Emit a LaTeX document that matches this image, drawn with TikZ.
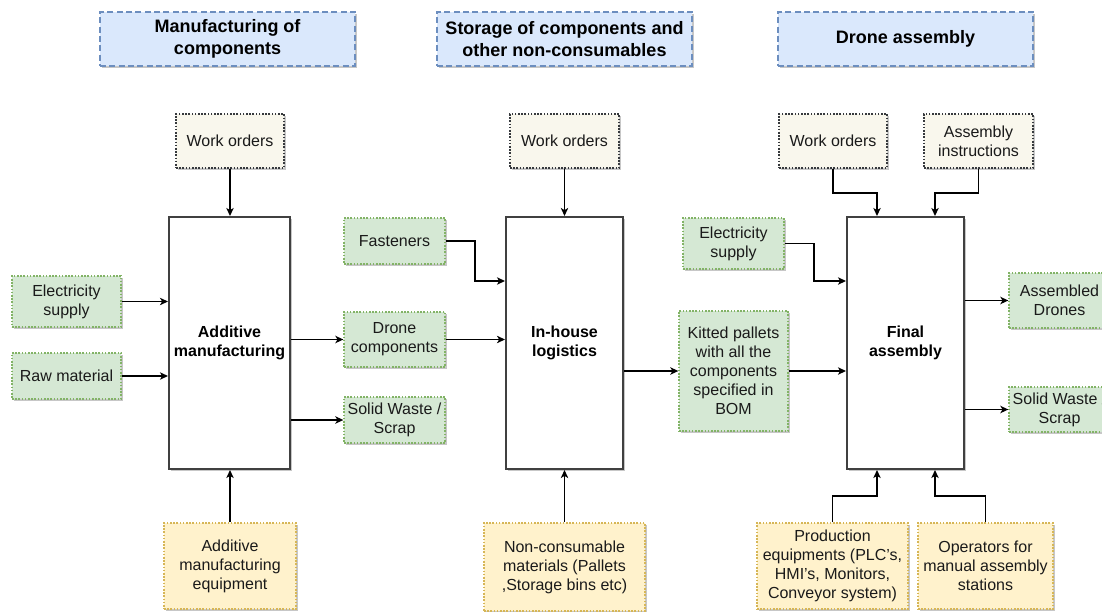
\documentclass[tikz,border=0pt]{standalone}
\usepackage{fontspec}
\setmainfont{Liberation Sans}
\usetikzlibrary{arrows.meta,shadows}

\definecolor{hdrfill}{HTML}{DAE8FC}
\definecolor{hdrline}{HTML}{6C8EBF}
\definecolor{grnfill}{HTML}{D5E8D4}
\definecolor{grnline}{HTML}{82B366}
\definecolor{ylwfill}{HTML}{FFF2CC}
\definecolor{ylwline}{HTML}{D6B656}
\definecolor{wofill}{HTML}{F9F7ED}
\definecolor{woline}{HTML}{36393D}
\definecolor{procline}{HTML}{404040}
\definecolor{txt}{HTML}{1A1A1A}

\tikzset{
  sz/.style 2 args={minimum width=#1*0.75pt, minimum height=#2*0.75pt},
  shd/.style={drop shadow={shadow xshift=1.6pt, shadow yshift=-1.6pt, opacity=0.22, fill=black}},
  base/.style={shape=rectangle, inner sep=1pt, align=center, text=txt,
    font=\fontsize{12pt}{14.2pt}\selectfont, shd},
  header/.style={base, fill=hdrfill, draw=hdrline, line width=1.1pt,
    dash pattern=on 4.5pt off 2.5pt, text=black,
    font=\fontsize{13.5pt}{16pt}\selectfont\bfseries},
  green/.style={base, fill=grnfill, draw=grnline, line width=1pt, dash pattern=on 1.2pt off 1.2pt},
  yellow/.style={base, fill=ylwfill, draw=ylwline, line width=1pt, dash pattern=on 1.2pt off 1.2pt},
  order/.style={base, fill=wofill, draw=woline, line width=1pt, dash pattern=on 1.2pt off 1.2pt},
  process/.style={base, fill=white, draw=procline, line width=1.5pt, text=black,
    font=\fontsize{12pt}{14.2pt}\selectfont\bfseries},
  flow/.style={draw=black, line width=1.1pt, -{Stealth[length=6pt, width=5.5pt, inset=1.6pt]}},
}

\begin{document}
\begin{tikzpicture}[x=0.75pt, y=-0.75pt]
\useasboundingbox (0,0) rectangle (1102,611);
\clip (0,0) rectangle (1102,611);

% stage headers
\node[header, sz={255}{54}] (h1) at (227.5,39) {Manufacturing of\\components};
\node[header, sz={255}{54}] (h2) at (564.5,39) {Storage of components and\\other non-consumables};
\node[header, sz={255}{54}] (h3) at (905.5,39) {Drone assembly};

% process blocks
\node[process, sz={121}{252}] (am)  at (229.5,343) {Additive\\manufacturing};
\node[process, sz={117}{252}] (log) at (564.5,343) {In-house\\logistics};
\node[process, sz={117}{252}] (fin) at (905.5,343) {Final\\assembly};

% controls
\node[order, sz={108}{54}] (wo1) at (230,141) {Work orders};
\node[order, sz={109}{54}] (wo2) at (564.5,141) {Work orders};
\node[order, sz={108}{54}] (wo3) at (833,141) {Work orders};
\node[order, sz={109}{54}] (ai)  at (978.5,141) {Assembly\\instructions};

% inputs and outputs
\node[green, sz={109}{51}]  (es1) at (66.5,301.5) {Electricity\\supply};
\node[green, sz={109}{46}]  (rm)  at (66.5,376) {Raw material};
\node[green, sz={101}{46}]  (fa)  at (394.5,241) {Fasteners};
\node[green, sz={101}{55}]  (dc)  at (394.5,339.5) {Drone\\components};
\node[green, sz={101}{46}]  (sw1) at (394.5,420) {Solid Waste /\\Scrap};
\node[green, sz={101}{51}]  (es2) at (733.5,243.5) {Electricity\\supply};
\node[green, sz={109}{120}] (kp)  at (733.5,371) {Kitted pallets\\with all the\\components\\specified in\\BOM};
\node[green, sz={101}{55}]  (ad)  at (1059.5,300.5) {Assembled\\Drones};
\node[green, sz={101}{45}]  (sw2) at (1059.5,409.5) {Solid Waste /\\Scrap};

% mechanisms
\node[yellow, sz={132}{86}] (ame) at (230,566) {Additive\\manufacturing\\equipment};
\node[yellow, sz={161}{88}] (ncm) at (564.5,567) {Non-consumable\\materials (Pallets\\,Storage bins etc)};
\node[yellow, sz={151}{86}] (pe)  at (832.5,566) {Production\\equipments (PLC's,\\HMI's, Monitors,\\Conveyor system)};
\node[yellow, sz={135}{86}] (op)  at (985.5,566) {Operators for\\manual assembly\\stations};

% additive manufacturing connections
\draw[flow] (wo1.south) -- (wo1.south |- am.north);
\draw[flow] (es1.east) -- (es1.east -| am.west);
\draw[flow] (rm.east) -- (rm.east -| am.west);
\draw[flow] (ame.north) -- (ame.north |- am.south);
\draw[flow] (am.east |- dc.west) -- (dc.west);
\draw[flow] (am.east |- sw1.west) -- (sw1.west);

% logistics connections
\draw[flow] (wo2.south) -- (wo2.south |- log.north);
\draw[flow] (fa.east) -- (475,241) |- (log.west |- 0,281);
\draw[flow] (dc.east) -- (dc.east -| log.west);
\draw[flow] (ncm.north) -- (ncm.north |- log.south);
\draw[flow] (log.east |- kp.west) -- (kp.west);

% final assembly connections
\draw[flow] (wo3.south) |- (877,193) -- (877,193 |- fin.north);
\draw[flow] (ai.south) |- (935,193) -- (935,193 |- fin.north);
\draw[flow] (es2.east) -- (814,243.5) |- (fin.west |- 0,281);
\draw[flow] (kp.east) -- (kp.east -| fin.west);
\draw[flow] (pe.north) |- (877,496) -- (877,496 |- fin.south);
\draw[flow] (op.north) |- (935,496) -- (935,496 |- fin.south);
\draw[flow] (fin.east |- ad.west) -- (ad.west);
\draw[flow] (fin.east |- sw2.west) -- (sw2.west);
\end{tikzpicture}
\end{document}
